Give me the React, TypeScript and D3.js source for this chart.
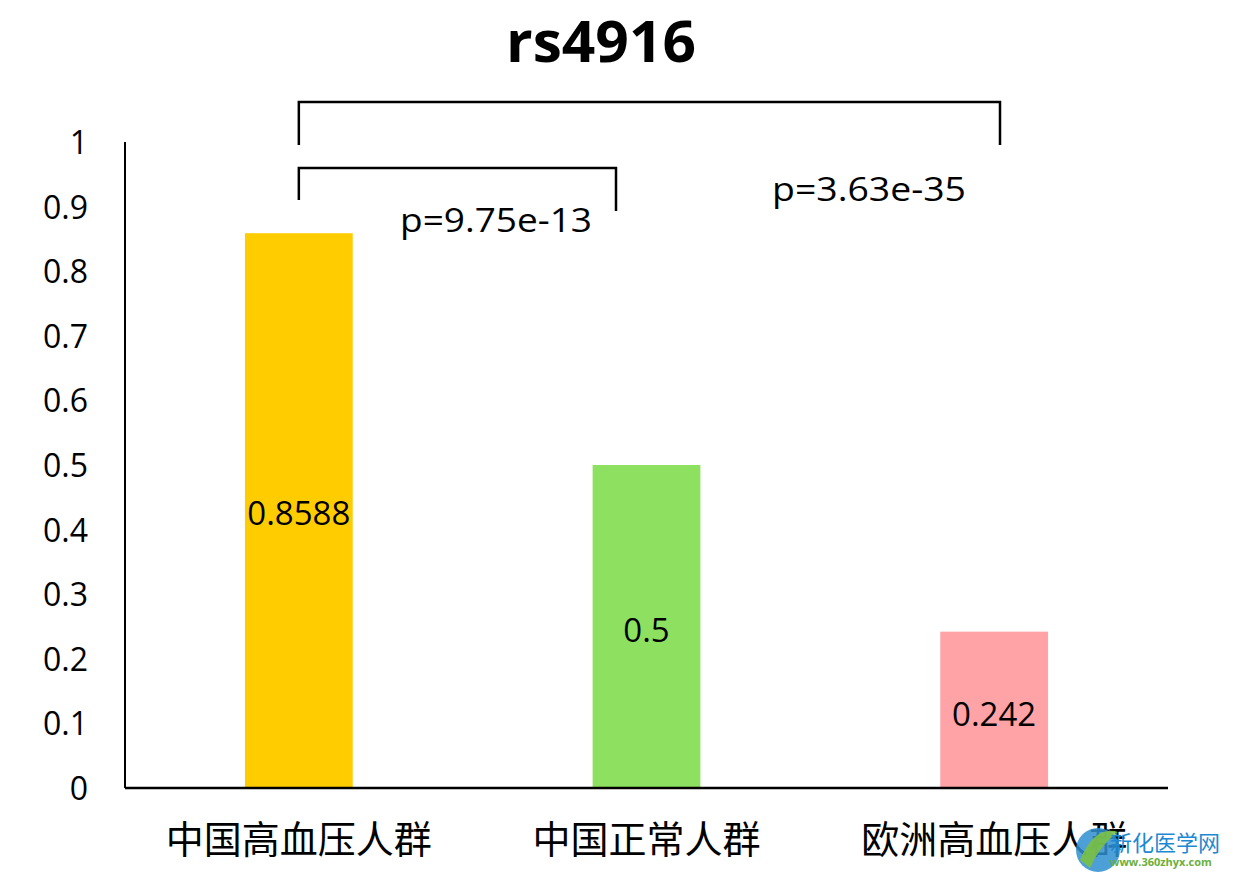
import React from "react";
import * as d3 from "d3";

const categories = ["中国高血压人群", "中国正常人群", "欧洲高血压人群"];
const values = [0.8588, 0.5, 0.242];
const valueLabels = ["0.8588", "0.5", "0.242"];
const colors = ["#FFCC00", "#8EE060", "#FFA3A6"];
const yTicks = [0, 0.1, 0.2, 0.3, 0.4, 0.5, 0.6, 0.7, 0.8, 0.9, 1];
const pLabels = ["p=9.75e-13", "p=3.63e-35"];

const W = 1240, H = 881;
const left = 125, right = 1168, top = 142, bottom = 788;

export default function App() {
  const x = d3.scaleBand<string>().domain(categories).range([left, right]).paddingInner(0.69).paddingOuter(0.345);
  const y = d3.scaleLinear().domain([0, 1]).range([bottom, top]);
  const font = "'Open Sans', 'Liberation Sans', sans-serif";
  const cx = (i: number) => (x(categories[i]) as number) + x.bandwidth() / 2;
  return (
    <svg width={W} height={H} style={{ position: "absolute", left: 0, top: 0, background: "#fff" }}>
      <rect width={W} height={H} fill="#fff" />
      <text x={601} y={62} textAnchor="middle" fontFamily={font} fontWeight="bold" fontSize={58} textLength={190} lengthAdjust="spacingAndGlyphs" fill="#000">rs4916</text>
      {values.map((v, i) => (
        <rect key={i} x={x(categories[i])} y={y(v)} width={x.bandwidth()} height={y(0) - y(v)} fill={colors[i]} />
      ))}
      {yTicks.map((t) => (
        <text key={t} x={88} y={y(t) + 12} textAnchor="end" fontFamily={font} fontSize={32} fill="#000">{d3.format("~g")(t)}</text>
      ))}
      <line x1={left} x2={left} y1={top} y2={bottom} stroke="#000" strokeWidth={2} />
      <line x1={left} x2={right} y1={bottom} y2={bottom} stroke="#000" strokeWidth={2.5} />
      {categories.map((c, i) => (
        <text key={c} x={cx(i)} y={853} textAnchor="middle" fontFamily="'Noto Sans CJK SC', sans-serif" fontSize={38} fill="#000">{c}</text>
      ))}
      {values.map((v, i) => (
        <text key={i} x={cx(i)} y={i === 0 ? 525 : i === 1 ? 642 : 726} textAnchor="middle" fontFamily={font} fontSize={33} fill="#000">{valueLabels[i]}</text>
      ))}
      {/* significance brackets */}
      <path d={`M${cx(0)},145 V102 H1000 V145`} fill="none" stroke="#000" strokeWidth={2.5} />
      <path d={`M${cx(0)},200 V168 H616 V211`} fill="none" stroke="#000" strokeWidth={2.5} />
      <text x={400} y={232} fontFamily={font} fontSize={32} textLength={192} lengthAdjust="spacingAndGlyphs" fill="#000">{pLabels[0]}</text>
      <text x={772} y={201} fontFamily={font} fontSize={32} textLength={194} lengthAdjust="spacingAndGlyphs" fill="#000">{pLabels[1]}</text>
      {/* watermark */}
      <circle cx={1098} cy={850} r={22} fill="#2E8FD0" opacity={0.85} />
      <path d="M1080,860 Q1095,825 1118,832 Q1100,845 1090,868 Z" fill="#7BC043" opacity={0.9} />
      <text x={1110} y={851} fontFamily="'Noto Sans CJK SC', sans-serif" fontSize={22} fill="#1E88D2">新化医学网</text>
      <text x={1110} y={866} fontFamily={font} fontWeight="bold" fontSize={11} fill="#6AAF3D">www.360zhyx.com</text>
    </svg>
  );
}
